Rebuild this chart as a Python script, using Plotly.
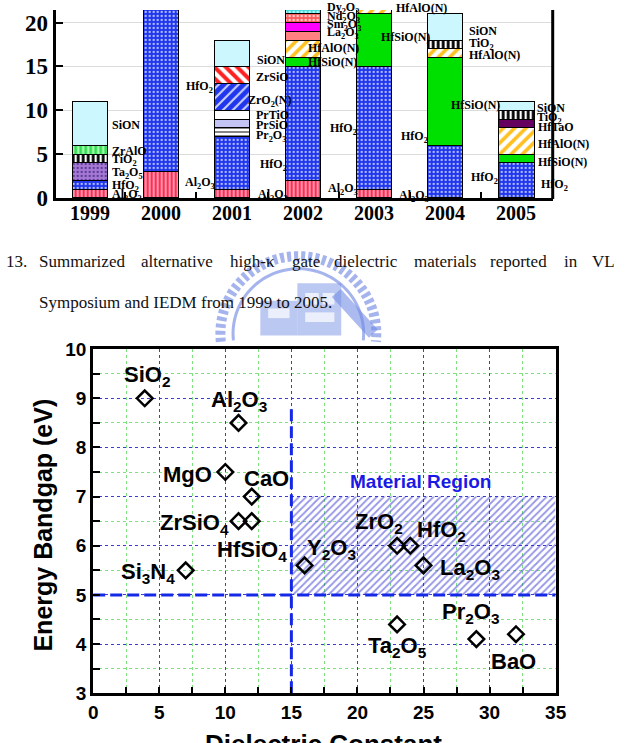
import re
import numpy as np
import plotly.graph_objects as go

W, H = 629, 743

# ---------------- top chart data: number of reports per year ----------------
YEARS = ["1999", "2000", "2001", "2002", "2003", "2004", "2005"]
AL2O3 = [1, 3, 1, 2, 1, None, None]
HFO2 = [1, 22, 6, 13, 14, 6, 4]
TA2O5 = [2, None, None, None, None, None, None]
PR2O3 = [None, None, 1, None, None, None, None]
PRSIO = [None, None, 1, None, None, None, None]
PRTIO = [None, None, 1, None, None, None, None]
ZRO2N = [None, None, 3, None, None, None, None]
ZRSIO = [None, None, 2, None, None, None, None]
HFSION = [None, None, None, 1, 6, 10, 1]
HFALON = [None, None, None, 2, 1, 1, 3]
LA2O3 = [None, None, None, 1, None, None, None]
SM2O3 = [None, None, None, 1, None, None, None]
ND2O3 = [None, None, None, 1, None, None, None]
DY2O3 = [None, None, None, 1, None, None, None]
HFTAO = [None, None, None, None, None, None, 1]
TIO2 = [1, None, None, None, None, 1, 1]
ZRALO = [1, None, None, None, None, None, None]
SION = [5, None, 3, None, None, 3, 1]

SERIES = [("Al2O3", AL2O3), ("HfO2", HFO2), ("Ta2O5", TA2O5), ("Pr2O3", PR2O3),
          ("PrSiO", PRSIO), ("PrTiO", PRTIO), ("ZrO2(N)", ZRO2N), ("ZrSiO", ZRSIO),
          ("HfSiO(N)", HFSION), ("HfAlO(N)", HFALON), ("La2O3", LA2O3), ("Sm2O3", SM2O3),
          ("Nd2O3", ND2O3), ("Dy2O3", DY2O3), ("HfTaO", HFTAO), ("TiO2", TIO2),
          ("ZrAlO", ZRALO), ("SiON", SION)]
BAR_TICKS = [0, 5, 10, 15, 20]

# ---------------- bottom chart data ----------------
OXIDES = ["SiO2", "Al2O3", "MgO", "CaO", "ZrSiO4", "HfSiO4", "Si3N4", "Y2O3",
          "ZrO2", "HfO2", "La2O3", "Ta2O5", "Pr2O3", "BaO"]
DIELECTRIC_K = [3.9, 11, 10, 12, 11, 12, 7, 16, 23, 24, 25, 23, 29, 32]
BANDGAP_EV = [9.0, 8.5, 7.5, 7.0, 6.5, 6.5, 5.5, 5.6, 6.0, 6.0, 5.6, 4.4, 4.1, 4.2]
K_MIN = 15          # material region boundary (dielectric constant)
EG_MIN = 5          # material region boundary (band gap)
REGION_EG_TOP = 7
REGION_LINE_TOP = 8.8
K_RANGE = [0, 35]
EG_RANGE = [3, 10]

CAPTION_1 = ["13.", "Summarized", "alternative", "high-\u03ba", "gate", "dielectric",
             "materials", "reported", "in", "VL"]
CAPTION_2 = "Symposium and IEDM from 1999 to 2005."

# ---------------- styles ----------------
STYLE = {
    "Al2O3": dict(bg="#ff2d55", fg="#ffc4d0", shape="|", size=4, sol=0.35),
    "HfO2": dict(bg="#1f35ee", fg="#b8c2ff", shape=".", size=4, sol=0.25),
    "Ta2O5": dict(bg="#a678d6", fg="#5a3a90", shape=".", size=4, sol=0.25),
    "Pr2O3": dict(bg="#ffffff", fg="#333333", shape="-", size=4, sol=0.3),
    "PrSiO": dict(bg="#c4c4f4", fg="#c4c4f4", shape=""),
    "PrTiO": dict(bg="#ffffff", fg="#ffffff", shape=""),
    "ZrO2(N)": dict(bg="#1f35ee", fg="#c8d0ff", shape="/", size=7, sol=0.3),
    "ZrSiO": dict(bg="#ffffff", fg="#ff2020", shape="\\", size=8, sol=0.5),
    "HfSiO(N)": dict(bg="#00e000", fg="#00e000", shape=""),
    "HfAlO(N)": dict(bg="#ffffff", fg="#ffc020", shape="/", size=8, sol=0.45),
    "La2O3": dict(bg="#ff8080", fg="#ff8080", shape=""),
    "Sm2O3": dict(bg="#ff00ff", fg="#ff00ff", shape=""),
    "Nd2O3": dict(bg="#ff5a5a", fg="#ffd0d0", shape=".", size=4, sol=0.3),
    "Dy2O3": dict(bg="#40d8d8", fg="#c0ffff", shape=".", size=4, sol=0.3),
    "HfTaO": dict(bg="#66005e", fg="#66005e", shape=""),
    "TiO2": dict(bg="#ffffff", fg="#000000", shape="|", size=5, sol=0.55),
    "ZrAlO": dict(bg="#33dd55", fg="#b8ffb8", shape="|", size=5, sol=0.4),
    "SiON": dict(bg="#ccf7ff", fg="#ccf7ff", shape=""),
}

SERIF = "Liberation Serif, Times New Roman, serif"
SANS = "Liberation Sans, Arial, sans-serif"


def px(x):
    return x / W


def py(y):
    return 1 - y / H


def chem(s):
    return re.sub(r'(?<=[A-Za-z\)])(\d+)', r'<sub>\1</sub>', s)


BAR_W = 0.495
Y_TOP = 21.43

fig = go.Figure()

for name, vals in SERIES:
    st = STYLE[name]
    fig.add_trace(go.Bar(
        x=list(range(len(YEARS))), y=vals, width=BAR_W,
        marker=dict(color=st["bg"], line=dict(color="black", width=1),
                    pattern=dict(shape=st["shape"], fgcolor=st["fg"], bgcolor=st["bg"],
                                 size=st.get("size", 5), solidity=st.get("sol", 0.3),
                                 fillmode="replace")),
        xaxis="x", yaxis="y", showlegend=False, hoverinfo="skip"))

# label tweaks (pixels) relative to bar's right edge / segment middle
TWEAK = {
    (1, "HfO2"): (5, 4), (1, "Al2O3"): (4, 2),
    (2, "SiON"): (5, -7), (2, "ZrSiO"): (4, -2), (2, "ZrO2(N)"): (-4, -4), (2, "PrTiO"): (4, 0),
    (2, "PrSiO"): (4, -2), (2, "Pr2O3"): (4, -4), (2, "HfO2"): (8, -2), (2, "Al2O3"): (6, -1),
    (3, "Dy2O3"): (4, 4), (3, "Nd2O3"): (4, 1), (3, "Sm2O3"): (4, 2), (3, "La2O3"): (4, 3),
    (3, "HfAlO(N)"): (-15, 1), (3, "HfSiO(N)"): (-15, 0), (3, "HfO2"): (7, -6), (3, "Al2O3"): (5, 0),
    (4, "HfAlO(N)"): (2, 4), (4, "HfSiO(N)"): (-13, 3), (4, "HfO2"): (7, -9), (4, "Al2O3"): (5, -2),
    (5, "SiON"): (4, -4), (5, "TiO2"): (4, 0), (5, "HfAlO(N)"): (4, -2), (5, "HfSiO(N)"): (-14, -3),
    (5, "HfO2"): (6, -6),
    (6, "SiON"): (1, -2), (6, "TiO2"): (1, -3), (6, "HfTaO"): (2, -4), (6, "HfAlO(N)"): (2, -3),
    (6, "HfSiO(N)"): (2, -3), (6, "HfO2"): (5, -5),
    (0, "SiON"): (3, -2),
}

annotations = []
base = np.zeros(len(YEARS))
for name, vals in SERIES:
    for i, v in enumerate(vals):
        if v is None:
            continue
        lo, hi = base[i], base[i] + v
        mid = (lo + min(hi, Y_TOP)) / 2
        dx, dy = TWEAK.get((i, name), (3, -1))
        annotations.append(dict(
            x=i + BAR_W / 2, y=mid, xref="x", yref="y", text="<b>" + chem(name) + "</b>",
            xanchor="left", yanchor="middle", xshift=dx, yshift=dy, showarrow=False,
            font=dict(family=SERIF, size=12, color="black")))
        base[i] = hi

# year labels of the bar chart
for i, yr in enumerate(YEARS):
    annotations.append(dict(
        x=i, y=py(209), xref="x", yref="paper", text="<b>" + yr + "</b>", showarrow=False,
        xanchor="center", yanchor="middle", font=dict(family=SERIF, size=20, color="black")))

# ---------------- scatter ----------------
fig.add_trace(go.Scatter(
    x=[K_MIN, K_RANGE[1], K_RANGE[1], K_MIN, K_MIN],
    y=[EG_MIN, EG_MIN, REGION_EG_TOP, REGION_EG_TOP, EG_MIN],
    mode="lines", fill="toself", line=dict(width=0),
    fillcolor="rgba(0,0,0,0)",
    fillpattern=dict(shape="/", fgcolor="#2a2ad0", bgcolor="rgba(255,255,255,0)",
                     size=5, solidity=0.35, fillmode="overlay"),
    xaxis="x2", yaxis="y2", showlegend=False, hoverinfo="skip"))

fig.add_trace(go.Scatter(
    x=[K_MIN, K_MIN], y=[EG_RANGE[0], REGION_LINE_TOP], mode="lines",
    line=dict(color="#1428e6", width=3, dash="12px,5px"),
    xaxis="x2", yaxis="y2", showlegend=False, hoverinfo="skip"))
fig.add_trace(go.Scatter(
    x=K_RANGE, y=[EG_MIN, EG_MIN], mode="lines",
    line=dict(color="#1428e6", width=3, dash="12px,5px"),
    xaxis="x2", yaxis="y2", showlegend=False, hoverinfo="skip"))

fig.add_trace(go.Scatter(
    x=DIELECTRIC_K, y=BANDGAP_EV, mode="markers",
    marker=dict(symbol="diamond-open", size=12, color="black", line=dict(width=2.5, color="black")),
    xaxis="x2", yaxis="y2", showlegend=False, hoverinfo="skip"))

LABEL_POS = {
    "SiO2": ("center", 2, 22), "Al2O3": ("center", 0, 22), "MgO": ("right", -11, -2),
    "CaO": ("left", -10, 18), "ZrSiO4": ("right", -8, -3), "HfSiO4": ("center", 0, -30),
    "Si3N4": ("right", -9, -3), "Y2O3": ("left", 0, 16), "ZrO2": ("center", -18, 23),
    "HfO2": ("left", 5, 15), "La2O3": ("left", 14, -4), "Ta2O5": ("center", 0, -23),
    "Pr2O3": ("center", -5, 26), "BaO": ("center", -2, -27),
}
for name, k, eg in zip(OXIDES, DIELECTRIC_K, BANDGAP_EV):
    xa, dx, dy = LABEL_POS[name]
    annotations.append(dict(
        x=k, y=eg, xref="x2", yref="y2", text="<b>" + chem(name) + "</b>",
        xanchor=xa, yanchor="middle", xshift=dx, yshift=dy, showarrow=False,
        font=dict(family=SANS, size=22, color="black")))

annotations.append(dict(
    x=(K_MIN + K_RANGE[1]) / 2 - 0.2, y=(REGION_EG_TOP + REGION_LINE_TOP) / 2 - 0.6,
    xref="x2", yref="y2", text="<b>Material Region</b>", showarrow=False,
    xanchor="center", yanchor="middle",
    font=dict(family=SANS, size=19, color="#1a1ae6")))

# axis titles
annotations.append(dict(
    x=px(38), y=py(532), xref="paper", yref="paper", text="<b>Energy Bandgap (eV)</b>",
    textangle=-90, showarrow=False, xanchor="center", yanchor="middle",
    font=dict(family=SANS, size=25, color="black")))
annotations.append(dict(
    x=px(327), y=py(757), xref="paper", yref="paper", text="<b>Dielectric Constant</b>",
    showarrow=False, xanchor="center", yanchor="middle",
    font=dict(family=SANS, size=26, color="black")))

# caption
CAP_X = [-1, 33, 138, 229, 292, 336, 418, 496, 572, 600]
for word, x0 in zip(CAPTION_1, CAP_X):
    annotations.append(dict(
        x=px(x0), y=py(260), xref="paper", yref="paper", text=word, xanchor="left",
        yanchor="middle", showarrow=False, font=dict(family=SERIF, size=17, color="#111111")))
annotations.append(dict(
    x=px(33), y=py(302), xref="paper", yref="paper", text=CAPTION_2, xanchor="left",
    yanchor="middle", showarrow=False, font=dict(family=SERIF, size=17, color="#111111")))

# ---------------- shapes: right frame of bar chart + faint watermark ----------------
shapes = [dict(type="line", xref="paper", yref="paper", x0=px(562), x1=px(562),
               y0=py(195), y1=1, line=dict(color="black", width=3))]

wm = "rgba(105,130,225,0.6)"
cx, cy = 301, 334
th = np.linspace(np.radians(186), np.radians(-6), 80)
for r, wdt, dash in [(80, 10, "4px,3px"), (67, 3, "solid")]:
    xs = cx + r * np.cos(th)
    ys = cy - r * np.sin(th)
    path = "M " + " L ".join(f"{px(a):.5f},{py(b):.5f}" for a, b in zip(xs, ys))
    shapes.append(dict(type="path", xref="paper", yref="paper", path=path, layer="below",
                       line=dict(color=wm, width=wdt, dash=dash)))
for (x0, y0, x1, y1) in [(262, 300, 300, 336), (300, 282, 345, 336)]:
    shapes.append(dict(type="rect", xref="paper", yref="paper", x0=px(x0), x1=px(x1),
                       y0=py(y1), y1=py(y0), fillcolor="rgba(120,145,228,0.5)",
                       line=dict(width=0), layer="below"))
for (x0, y0, x1, y1) in [(270, 308, 292, 318), (308, 292, 322, 304), (326, 292, 338, 304),
                         (308, 312, 338, 322)]:
    shapes.append(dict(type="rect", xref="paper", yref="paper", x0=px(x0), x1=px(x1),
                       y0=py(y1), y1=py(y0), fillcolor="rgba(255,255,255,0.7)",
                       line=dict(width=0), layer="below"))
shapes.append(dict(type="line", xref="paper", yref="paper", x0=px(340), y0=py(292),
                   x1=px(378), y1=py(334), line=dict(color="rgba(115,140,228,0.6)", width=12),
                   layer="below"))

fig.update_layout(
    width=W, height=H, margin=dict(l=0, r=0, t=0, b=0), autosize=False,
    paper_bgcolor="white", plot_bgcolor="white", barmode="stack",
    annotations=annotations, shapes=shapes,
    xaxis=dict(domain=[px(52), px(562)], range=[-0.48, 6.51], anchor="y",
               tickvals=list(range(len(YEARS))), ticks="", showticklabels=False,
               showline=True, linecolor="black", linewidth=3, showgrid=False, zeroline=False,
               minor=dict(tickvals=[i + 0.5 for i in range(len(YEARS) - 1)], ticks="inside",
                          ticklen=6, tickwidth=2, tickcolor="black", showgrid=False)),
    yaxis=dict(domain=[py(194), 1.0], range=[0, Y_TOP], anchor="x",
               tickvals=BAR_TICKS, ticks="inside", ticklen=7, tickwidth=2, tickcolor="black",
               tickfont=dict(family=SERIF, size=23, color="black", weight="bold"),
               showline=True, linecolor="black", linewidth=3,
               showgrid=True, gridcolor="#dcdcdc", gridwidth=1, zeroline=False),
    xaxis2=dict(domain=[px(90.5), px(565)], range=K_RANGE, anchor="y2", dtick=5,
                ticks="inside", ticklen=6, tickwidth=2, tickcolor="black",
                tickfont=dict(family=SANS, size=19, color="black", weight="bold"),
                showline=True, linecolor="black", linewidth=3, mirror=True,
                showgrid=True, gridcolor="#3c3cd8", griddash="dot", gridwidth=1, zeroline=False,
                minor=dict(dtick=2.5, ticks="inside", ticklen=6, tickwidth=2, tickcolor="black",
                           showgrid=True, gridcolor="#7fe07f", griddash="dot", gridwidth=1)),
    yaxis2=dict(domain=[py(705), py(350)], range=EG_RANGE, anchor="x2", dtick=1,
                ticks="inside", ticklen=7, tickwidth=2, tickcolor="black",
                tickfont=dict(family=SANS, size=19, color="black", weight="bold"),
                showline=True, linecolor="black", linewidth=3, mirror=True,
                showgrid=True, gridcolor="#3c3cd8", griddash="dot", gridwidth=1, zeroline=False,
                minor=dict(dtick=0.5, ticks="inside", ticklen=7, tickwidth=2, tickcolor="black",
                           showgrid=True, gridcolor="#7fe07f", griddash="dot", gridwidth=1)),
)

fig.write_html("out.html")
